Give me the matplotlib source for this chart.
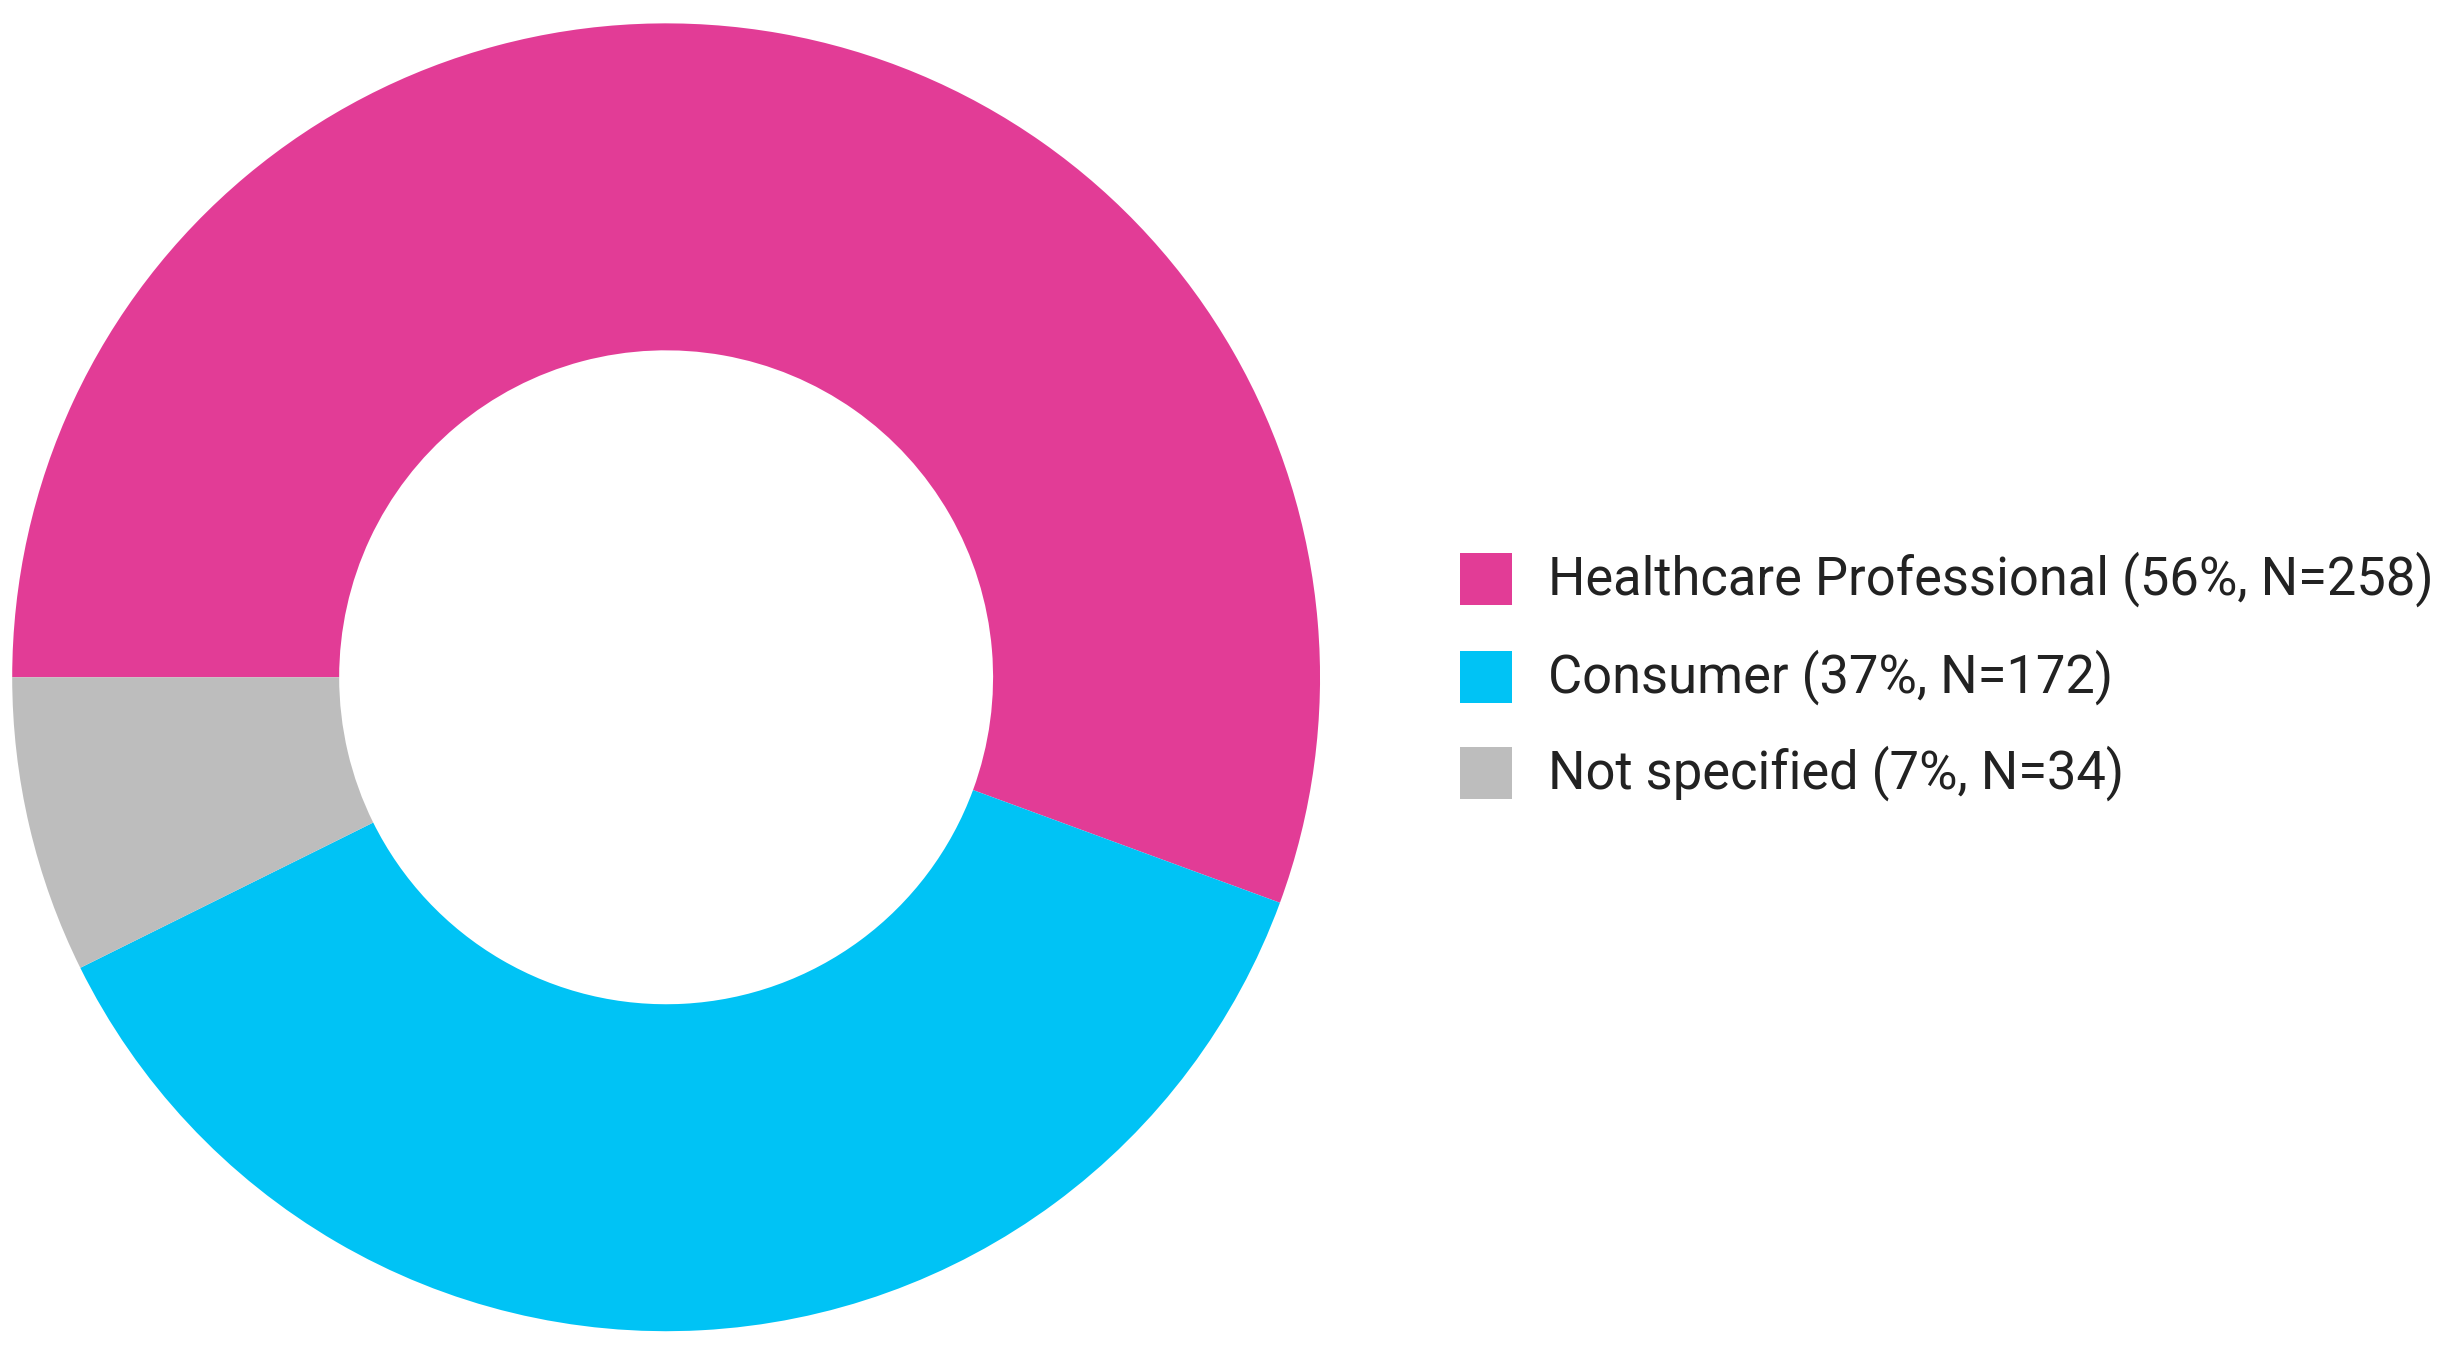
import matplotlib.pyplot as plt
from matplotlib.patches import Rectangle

# DATA
labels = ["Healthcare Professional", "Consumer", "Not specified"]
pcts = [56, 37, 7]
counts = [258, 172, 34]
colors = ["#E23C96", "#00C3F5", "#BDBDBD"]

fig = plt.figure(figsize=(24.4, 13.6), dpi=100)
ax = fig.add_axes([0.005, 0.021, 0.536, 0.962])
ax.pie(counts, colors=colors, startangle=180, counterclock=False,
       wedgeprops=dict(width=0.5, linewidth=0))
ax.set_xlim(-1, 1)
ax.set_ylim(-1, 1)
ax.set_aspect("equal")

# legend, drawn by hand to keep positions tight
row_y = [1 - 579 / 1360, 1 - 677 / 1360, 1 - 773 / 1360]
sq_w, sq_h = 52 / 2440, 52 / 1360
for lab, p, n, c, y in zip(labels, pcts, counts, colors, row_y):
    fig.patches.append(Rectangle((1460 / 2440, y - sq_h / 2), sq_w, sq_h,
                                 transform=fig.transFigure, color=c, lw=0))
    fig.text(1548 / 2440, y, f"{lab} ({p}%, N={n})", fontsize=37.8,
             family="Roboto", va="center", ha="left", color="#222222")

fig.savefig("out.png", dpi=100)
